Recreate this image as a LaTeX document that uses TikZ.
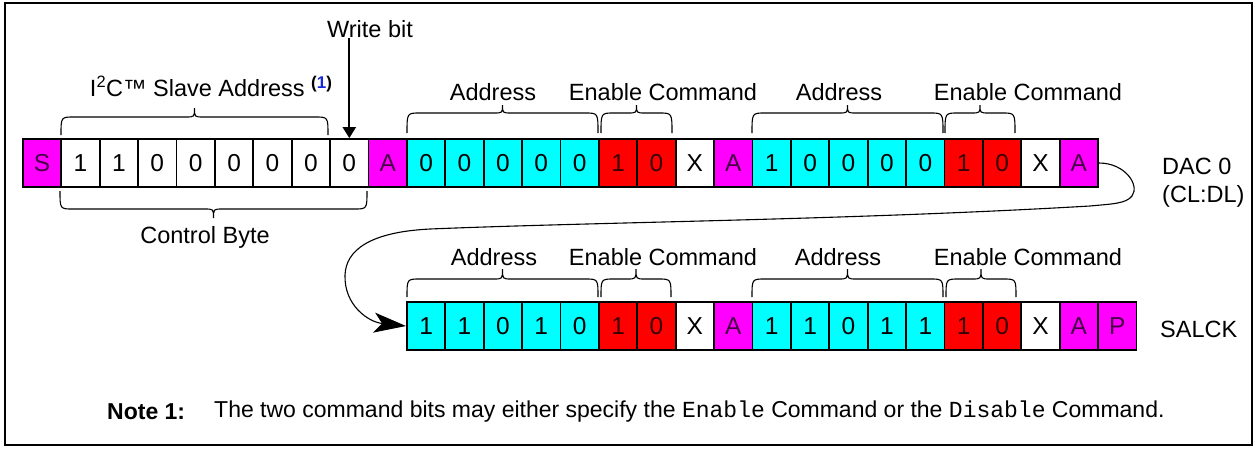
\documentclass[tikz,border=0pt]{standalone}
\usepackage{fontspec}
\setmainfont{Liberation Sans}
\setmonofont{Liberation Mono}
\usetikzlibrary{arrows.meta}
\definecolor{mg}{RGB}{255,0,255}
\definecolor{cy}{RGB}{0,255,255}
\definecolor{rd}{RGB}{255,0,0}
\definecolor{mgtext}{RGB}{70,0,70}
\definecolor{rdtext}{RGB}{55,0,0}
\definecolor{notblue}{RGB}{20,40,220}
\newcommand\lblfont{\fontsize{23.5}{28}\selectfont}
\newcommand\cellfont{\fontsize{24.5}{28}\selectfont}
\newcommand\notefont{\fontsize{23}{28}\selectfont}
\newcommand\mybrace[5]{%
\draw[bracel] (#1,#3) .. controls (#1,#4) .. ({#1+13},#4) -- ({(#1+#2)/2-9},#4)
  .. controls ({(#1+#2)/2},#4) .. ({(#1+#2)/2},#5)
  .. controls ({(#1+#2)/2},#4) .. ({(#1+#2)/2+9},#4) -- ({#2-13},#4)
  .. controls (#2,#4) .. (#2,#3);}
\tikzset{
  cell/.style={draw, line width=1.8pt, minimum width=38.4pt, minimum height=48pt,
    inner sep=0pt, anchor=west, font=\cellfont},
  wh/.style={fill=white},
  mgc/.style={fill=mg, text=mgtext},
  cyc/.style={fill=cy},
  rdc/.style={fill=rd, text=rdtext},
  lbl/.style={inner sep=0pt, font=\lblfont},
  bracel/.style={line width=1.1pt},
  frame/.style={line width=2pt}
}
\begin{document}
\begin{tikzpicture}[x=1pt,y=-1pt]
\useasboundingbox (0,0) rectangle (1257,448);
\draw[frame] (5,3) rectangle (1252,445);
% row 1
\foreach \t/\c [count=\i] in {S/mgc,1/wh,1/wh,0/wh,0/wh,0/wh,0/wh,0/wh,0/wh,A/mgc,
  0/cyc,0/cyc,0/cyc,0/cyc,0/cyc,1/rdc,0/rdc,X/wh,A/mgc,
  1/cyc,0/cyc,0/cyc,0/cyc,0/cyc,1/rdc,0/rdc,X/wh,A/mgc}
  \node[cell,\c] (r1-\i) at ({22+(\i-1)*38.4},163) {\t};
% row 2
\foreach \t/\c [count=\i] in {1/cyc,1/cyc,0/cyc,1/cyc,0/cyc,1/rdc,0/rdc,X/wh,A/mgc,
  1/cyc,1/cyc,0/cyc,1/cyc,1/cyc,1/rdc,0/rdc,X/wh,A/mgc,P/mgc}
  \node[cell,\c] (r2-\i) at ({406+(\i-1)*38.4},326) {\t};
% labels row 1
\node[lbl] (wbl) at (370,29) {Write bit};
\draw[line width=2.2pt,-{Triangle[length=11pt,width=13pt]}] (wbl.south -| r1-9.center) -- (r1-9.north);
\node[lbl] (sla) at (211,86) {I\textsuperscript{2}C™ Slave Address \raisebox{8pt}{\fontsize{17}{20}\selectfont\bfseries (\textcolor{notblue}{1})}};
\node[lbl] (ad1) at (493,92) {Address};
\node[lbl] (en1) at (663,92) {Enable Command};
\node[lbl] (ad2) at (839,92) {Address};
\node[lbl] (en2) at (1028,92) {Enable Command};
\node[lbl] (cb) at (205,237) {Control Byte};
\node[lbl,anchor=west] (dac) at (1162,166) {DAC 0};
\node[lbl,anchor=west] (cldl) at (1162,196) {(CL:DL)};
% labels row 2
\node[lbl] (ad3) at (494,257) {Address};
\node[lbl] (en3) at (663,257) {Enable Command};
\node[lbl] (ad4) at (838,257) {Address};
\node[lbl] (en4) at (1028,257) {Enable Command};
\node[lbl,anchor=west] (salck) at (1160,329) {SALCK};
% braces row 1
\mybrace{61}{328}{135}{117}{108}
\mybrace{407}{598}{133}{113}{105}
\mybrace{601}{672}{133}{113}{105}
\mybrace{752}{943}{133}{113}{105}
\mybrace{945}{1015}{133}{113}{105}
\mybrace{60}{367}{191}{209}{218}
% braces row 2
\mybrace{407}{598}{297}{279}{269}
\mybrace{601}{671}{297}{279}{269}
\mybrace{752}{943}{297}{279}{269}
\mybrace{946}{1016}{297}{279}{269}
% connector
\draw[line width=1.1pt,-{Stealth[length=32pt,width=20pt,inset=8pt]}]
  (r1-28.east) .. controls (1125,163) and (1140,185) .. (1132,196)
  .. controls (1126,204) and (1110,204) .. (1090,206)
  .. controls (850,220) and (600,222) .. (430,229)
  .. controls (370,232) and (346,250) .. (345,275)
  .. controls (344,305) and (368,322) .. (r2-1.west);
% note
\node[inner sep=0pt,anchor=west,font=\notefont\bfseries] (n1) at (107,412) {Note 1:};
\node[inner sep=0pt,anchor=west,font=\notefont] (n2) at (214,412) {The two command bits may either specify the \texttt{Enable} Command or the \texttt{Disable} Command.};
\end{tikzpicture}
\end{document}
